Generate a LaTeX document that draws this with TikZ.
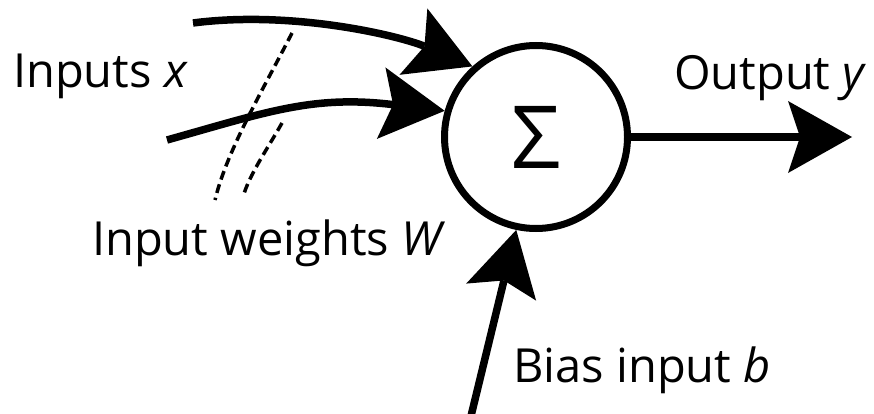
\documentclass[tikz,border=0pt]{standalone}
\usepackage{fontspec}
\setmainfont{Open Sans}
\usetikzlibrary{arrows.meta}

\tikzset{
  lbl/.style={inner sep=0pt,anchor=base west,font=\fontsize{47}{47}\selectfont},
  bigtip/.style={-{Stealth[length=64pt,width=72pt,inset=12pt,line width=0pt]}},
  conn/.style={line width=7.5pt,bigtip},
  wdash/.style={line width=3.5pt,dash pattern=on 9pt off 5pt},
}

\begin{document}
\begin{tikzpicture}[x=1pt,y=-1pt,line join=round]
  \useasboundingbox (0,0) rectangle (874,414);
  \node[circle,draw,line width=7pt,inner sep=0pt,minimum size=183pt,
        font=\fontsize{87}{87}\selectfont] (sum) at (536,137) {Σ};
  \coordinate (xa) at (193,23);
  \coordinate (xb) at (167,140);
  \coordinate (bin) at (471,416);
  \coordinate (yout) at (852,137);
  \draw[conn] (xa) .. controls (293,10) and (400,36) .. (sum.132);
  \draw[conn] (xb) .. controls (267,112) and (313,95) .. (sum.164);
  \draw[conn] (bin) -- (sum.258);
  \draw[conn] (sum.east) -- (yout);
  \draw[wdash] (292,33) .. controls (264,88) and (227,150) .. (215,200);
  \draw[wdash] (282,123) .. controls (268,148) and (249,175) .. (243,197);
  \node[lbl] (inputs) at (13,88) {Inputs \textit{x}};
  \node[lbl] (weights) at (92,255) {Input weights \textit{W}};
  \node[lbl] (bias) at (513,382) {Bias input \textit{b}};
  \node[lbl] (output) at (674,90) {Output \textit{y}};
\end{tikzpicture}
\end{document}
